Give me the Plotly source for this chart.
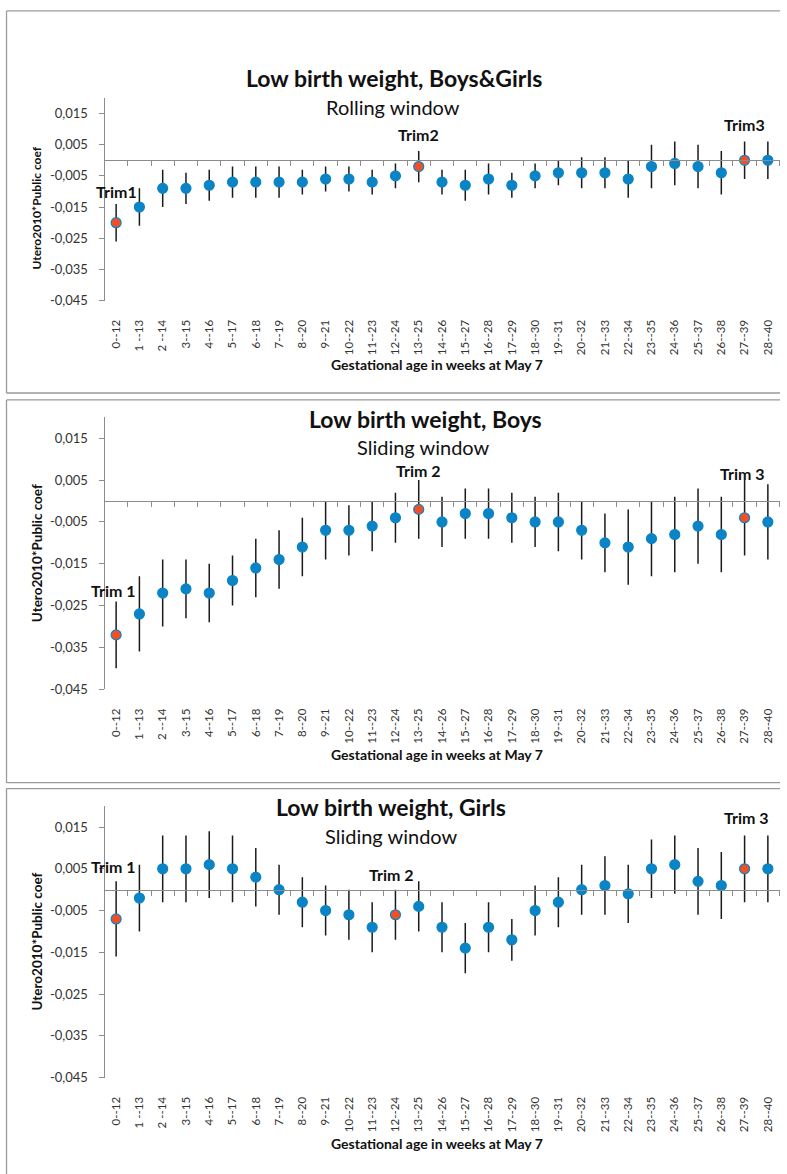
import plotly.graph_objects as go

# ---------------- data ----------------
categories = ["0--12", "1 --13", "2 --14", "3--15", "4--16", "5--17", "6--18", "7--19",
              "8--20", "9--21", "10--22", "11--23", "12--24", "13--25", "14--26", "15--27",
              "16--28", "17--29", "18--30", "19--31", "20--32", "21--33", "22--34", "23--35",
              "24--36", "25--37", "26--38", "27--39", "28--40"]

bg_coef = [-0.020, -0.015, -0.009, -0.009, -0.008, -0.007, -0.007, -0.007, -0.007, -0.006,
           -0.006, -0.007, -0.005, -0.002, -0.007, -0.008, -0.006, -0.008, -0.005, -0.004,
           -0.004, -0.004, -0.006, -0.002, -0.001, -0.002, -0.004, 0.000, 0.000]
bg_lo = [-0.026, -0.021, -0.015, -0.014, -0.013, -0.012, -0.012, -0.012, -0.011, -0.010,
         -0.010, -0.011, -0.009, -0.007, -0.011, -0.013, -0.011, -0.012, -0.009, -0.008,
         -0.009, -0.009, -0.012, -0.009, -0.008, -0.009, -0.011, -0.006, -0.006]
bg_hi = [-0.014, -0.009, -0.003, -0.004, -0.003, -0.002, -0.002, -0.002, -0.003, -0.002,
         -0.002, -0.003, -0.001, 0.003, -0.003, -0.003, -0.001, -0.004, -0.001, 0.000,
         0.001, 0.001, 0.000, 0.005, 0.006, 0.005, 0.003, 0.006, 0.006]

boys_coef = [-0.032, -0.027, -0.022, -0.021, -0.022, -0.019, -0.016, -0.014, -0.011, -0.007,
             -0.007, -0.006, -0.004, -0.002, -0.005, -0.003, -0.003, -0.004, -0.005, -0.005,
             -0.007, -0.010, -0.011, -0.009, -0.008, -0.006, -0.008, -0.004, -0.005]
boys_lo = [-0.040, -0.036, -0.030, -0.028, -0.029, -0.025, -0.023, -0.021, -0.018, -0.014,
           -0.013, -0.012, -0.010, -0.009, -0.011, -0.009, -0.009, -0.010, -0.011, -0.012,
           -0.014, -0.017, -0.020, -0.018, -0.017, -0.015, -0.017, -0.013, -0.014]
boys_hi = [-0.024, -0.018, -0.014, -0.014, -0.015, -0.013, -0.009, -0.007, -0.004, 0.000,
           -0.001, 0.000, 0.002, 0.005, 0.001, 0.003, 0.003, 0.002, 0.001, 0.002,
           0.000, -0.003, -0.002, 0.000, 0.001, 0.003, 0.001, 0.005, 0.004]

girls_coef = [-0.007, -0.002, 0.005, 0.005, 0.006, 0.005, 0.003, 0.000, -0.003, -0.005,
              -0.006, -0.009, -0.006, -0.004, -0.009, -0.014, -0.009, -0.012, -0.005, -0.003,
              0.000, 0.001, -0.001, 0.005, 0.006, 0.002, 0.001, 0.005, 0.005]
girls_lo = [-0.016, -0.010, -0.003, -0.003, -0.002, -0.003, -0.004, -0.006, -0.009, -0.011,
            -0.012, -0.015, -0.012, -0.010, -0.015, -0.020, -0.015, -0.017, -0.011, -0.009,
            -0.006, -0.006, -0.008, -0.002, -0.001, -0.006, -0.007, -0.003, -0.003]
girls_hi = [0.002, 0.006, 0.013, 0.013, 0.014, 0.013, 0.010, 0.006, 0.003, 0.001,
            0.000, -0.003, 0.000, 0.002, -0.003, -0.008, -0.003, -0.007, 0.001, 0.003,
            0.006, 0.008, 0.006, 0.012, 0.013, 0.010, 0.009, 0.013, 0.013]

bg_highlight = [0, 13, 27]
boys_highlight = [0, 13, 27]
girls_highlight = [0, 12, 27]

ytick_vals = [-0.045, -0.035, -0.025, -0.015, -0.005, 0.005, 0.015]
ytick_text = ["-0,045", "-0,035", "-0,025", "-0,015", "-0,005", "0,005", "0,015"]
y_range = [-0.045, 0.02]

titles = ["Low birth weight, Boys&Girls", "Low birth weight, Boys", "Low birth weight, Girls"]
subtitles = ["Rolling window", "Sliding window", "Sliding window"]
trim_labels = [["Trim1", "Trim2", "Trim3"], ["Trim 1", "Trim 2", "Trim 3"], ["Trim 1", "Trim 2", "Trim 3"]]
trim_x = [[0, 13, 27], [-0.1, 13, 26.9], [-0.1, 11.85, 27.1]]
trim_y = [[-0.0100, 0.0082, 0.0114], [-0.0215, 0.0072, 0.0065], [0.0056, 0.0037, 0.0173]]
x_title = "Gestational age in weeks at May 7"
y_title = "Utero2010*Public coef"

# ---------------- styling / layout ----------------
W, H = 787, 1174
BLUE = "#0B84C6"
RED = "#EF5026"
GRAY = "#8C8C8C"
FRAME = "#9A9A9A"
FONT = "Lato"


def X(px):
    return px / W


def Y(py):
    return 1 - py / H


# pixel geometry of each panel
panels = [
    dict(box=(11, 395.7), ytop=98.6, ybot=302.7, title_y=79, sub_y=108, cx_t=394, cx_s=393,
         xt_y=367, xt_x=437, yl_fs=12, yl_c=210),
    dict(box=(402.7, 788), ytop=420.2, ybot=694.0, title_y=422, sub_y=450, cx_t=425, cx_s=424,
         xt_y=760, xt_x=437, yl_fs=13.5, yl_c=557),
    dict(box=(794, 1200), ytop=811.7, ybot=1085.0, title_y=813, sub_y=842, cx_t=391, cx_s=391,
         xt_y=1151, xt_x=437, yl_fs=13.5, yl_c=948),
]
x_left, x_right = 104.5, 779.5
frame_left, frame_right = 6.5, 780

series = [(bg_coef, bg_lo, bg_hi, bg_highlight),
          (boys_coef, boys_lo, boys_hi, boys_highlight),
          (girls_coef, girls_lo, girls_hi, girls_highlight)]

fig = go.Figure()
layout = dict(width=W, height=H, margin=dict(l=0, r=0, t=0, b=0),
              paper_bgcolor="white", plot_bgcolor="rgba(0,0,0,0)",
              showlegend=False, font=dict(family=FONT, color="#222"))
shapes = []
annotations = []

for i, (p, (coef, lo, hi, hl)) in enumerate(zip(panels, series)):
    n = i + 1
    xa = "xaxis" if n == 1 else f"xaxis{n}"
    ya = "yaxis" if n == 1 else f"yaxis{n}"
    xr = "x" if n == 1 else f"x{n}"
    yr = "y" if n == 1 else f"y{n}"
    ov = f"xaxis{n + 3}"
    ovr = f"x{n + 3}"

    colors = [RED if k in hl else BLUE for k in range(len(coef))]
    fig.add_trace(go.Scatter(
        x=categories, y=coef, mode="markers", xaxis=xr, yaxis=yr,
        marker=dict(color=colors, size=10, line=dict(color=BLUE, width=1.2)),
        error_y=dict(type="data", symmetric=False,
                     array=[h - c for h, c in zip(hi, coef)],
                     arrayminus=[c - l for c, l in zip(coef, lo)],
                     color="#1a1a1a", thickness=1.5, width=0),
        hoverinfo="skip"))
    # invisible helper trace for the zero-line axis with boundary ticks
    fig.add_trace(go.Scatter(x=[0], y=[0], xaxis=ovr, yaxis=yr, mode="markers",
                             marker=dict(opacity=0), hoverinfo="skip"))

    dom = [Y(p["ybot"]), Y(p["ytop"])]
    layout[xa] = dict(domain=[X(x_left), X(x_right)], anchor=yr, type="category",
                      categoryorder="array", categoryarray=categories,
                      range=[-0.5, len(categories) - 0.5], tickangle=-90,
                      showline=False, ticks="", showgrid=False, zeroline=False,
                      ticklabelstandoff=16,
                      tickfont=dict(family=FONT, size=11.5, color="#333"))
    layout[ya] = dict(domain=dom, anchor=xr, range=y_range, tickvals=ytick_vals,
                      ticktext=ytick_text, showline=True, linecolor=GRAY, linewidth=1,
                      ticks="outside", ticklen=5, tickcolor=GRAY, showgrid=False,
                      zeroline=False, ticklabelstandoff=8,
                      tickfont=dict(family=FONT, size=13, color="#333"))
    zero_pos = dom[0] + (0 - y_range[0]) / (y_range[1] - y_range[0]) * (dom[1] - dom[0])
    layout[ov] = dict(domain=[X(x_left), X(x_right)], overlaying=xr, anchor="free",
                      position=zero_pos, side="bottom", range=[-0.5, len(categories) - 0.5],
                      tickvals=[k - 0.5 for k in range(len(categories) + 1)],
                      showticklabels=False, ticks="outside", ticklen=5, tickcolor=GRAY,
                      showline=True, linecolor=GRAY, linewidth=1, showgrid=False,
                      zeroline=False)

    # panel frame (top, left, bottom edges)
    y0, y1 = Y(p["box"][0]), Y(p["box"][1])
    for (xa0, ya0, xa1, ya1) in [(frame_left, y0, frame_right, y0),
                                 (frame_left, y0, frame_left, y1),
                                 (frame_left, y1, frame_right, y1)]:
        shapes.append(dict(type="line", xref="paper", yref="paper",
                           x0=X(xa0), x1=X(xa1), y0=ya0, y1=ya1,
                           line=dict(color=FRAME, width=1.3)))

    annotations.append(dict(text=f"<b>{titles[i]}</b>", xref="paper", yref="paper",
                            x=X(p["cx_t"]), y=Y(p["title_y"]), showarrow=False,
                            xanchor="center", yanchor="middle",
                            font=dict(family=FONT, size=23, color="#111")))
    annotations.append(dict(text=subtitles[i], xref="paper", yref="paper",
                            x=X(p["cx_s"]), y=Y(p["sub_y"]), showarrow=False,
                            xanchor="center", yanchor="middle",
                            font=dict(family=FONT, size=20, color="#111")))
    annotations.append(dict(text=f"<b>{x_title}</b>", xref="paper", yref="paper",
                            x=X(p["xt_x"]), y=Y(p["xt_y"]), showarrow=False,
                            xanchor="center", yanchor="middle",
                            font=dict(family=FONT, size=14, color="#111")))
    annotations.append(dict(text=f"<b>{y_title}</b>", xref="paper", yref="paper",
                            x=X(37), y=Y(p["yl_c"]), showarrow=False, textangle=-90,
                            xanchor="center", yanchor="middle",
                            font=dict(family=FONT, size=p["yl_fs"], color="#111")))
    for lab, tx, ty in zip(trim_labels[i], trim_x[i], trim_y[i]):
        annotations.append(dict(text=f"<b>{lab}</b>", xref=xr, yref=yr, x=tx, y=ty,
                                showarrow=False, xanchor="center", yanchor="middle",
                                font=dict(family=FONT, size=16, color="#111")))

layout["shapes"] = shapes
layout["annotations"] = annotations
fig.update_layout(**layout)
fig.write_html("out.html", config={"displayModeBar": False},
               post_script=("document.documentElement.style.overflow='hidden';"
                            "document.body.style.overflow='hidden';"
                            "document.body.style.margin='0';document.body.style.padding='0';"))
